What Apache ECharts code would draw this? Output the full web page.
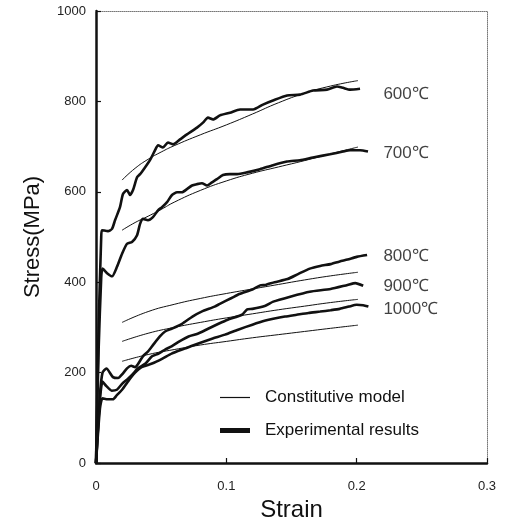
<!DOCTYPE html>
<html>
<head>
<meta charset="utf-8">
<script src="https://cdn.jsdelivr.net/npm/echarts@6/dist/echarts.min.js"></script>
<style>
html,body{margin:0;padding:0;background:#fff;}
#chart{width:506px;height:527px;}
</style>
</head>
<body>
<div id="chart"></div>
<script>
// ---- data: [strain, stress(MPa)] ----
var exp600 = [[0,0],[0.002,300],[0.004,500],[0.0046,515],[0.0092,513],[0.0123,518],[0.0146,537],[0.0184,566],[0.0207,595],[0.0238,604],[0.0261,593],[0.0284,604],[0.0315,632],[0.0338,639],[0.0376,654],[0.0414,670],[0.0453,692],[0.0476,703],[0.0514,698],[0.0552,709],[0.0591,705],[0.0645,716],[0.0698,727],[0.0775,742],[0.0821,753],[0.0859,764],[0.0898,760],[0.0951,769],[0.1028,775],[0.1105,782],[0.1205,782],[0.1281,793],[0.1358,802],[0.1466,813],[0.1565,815],[0.1665,824],[0.1772,826],[0.1849,833],[0.1895,830],[0.1949,826],[0.2026,828]];
var exp700 = [[0,0],[0.002,250],[0.004,410],[0.005,430],[0.0085,420],[0.0123,413],[0.0161,434],[0.02,463],[0.0238,485],[0.0276,489],[0.0315,504],[0.0338,529],[0.0361,540],[0.0399,537],[0.0437,544],[0.0476,559],[0.0506,566],[0.0545,577],[0.0583,593],[0.0622,599],[0.066,599],[0.0698,606],[0.0737,614],[0.0775,617],[0.0813,619],[0.0852,614],[0.089,621],[0.0928,628],[0.0974,637],[0.1028,639],[0.1082,639],[0.1159,643],[0.1258,650],[0.1358,659],[0.1466,667],[0.1565,670],[0.1665,676],[0.1795,683],[0.1895,689],[0.1949,692],[0.2026,692],[0.2087,689]];
var exp800 = [[0,0],[0.003,150],[0.005,200],[0.008,209],[0.013,190],[0.017,188],[0.02,196],[0.024,210],[0.027,215],[0.03,212],[0.032,218],[0.036,236],[0.04,247],[0.044,262],[0.049,280],[0.053,291],[0.058,297],[0.066,308],[0.074,324],[0.081,335],[0.091,346],[0.095,352],[0.104,365],[0.11,374],[0.12,384],[0.126,393],[0.13,394],[0.137,400],[0.147,407],[0.155,418],[0.164,430],[0.172,436],[0.18,440],[0.187,446],[0.193,450],[0.2,456],[0.208,460]];
var exp900 = [[0,0],[0.003,140],[0.005,180],[0.008,170],[0.012,160],[0.016,162],[0.02,175],[0.024,185],[0.028,196],[0.032,209],[0.038,220],[0.043,236],[0.048,242],[0.053,251],[0.058,258],[0.064,269],[0.071,280],[0.078,286],[0.086,297],[0.094,308],[0.101,317],[0.112,328],[0.116,340],[0.12,341],[0.13,348],[0.136,357],[0.149,368],[0.164,379],[0.18,385],[0.193,394],[0.199,398],[0.205,392]];
var exp1000 = [[0,0],[0.003,120],[0.005,143],[0.009,141],[0.013,141],[0.016,150],[0.02,162],[0.024,178],[0.027,190],[0.03,200],[0.035,212],[0.043,220],[0.051,231],[0.058,242],[0.068,253],[0.078,264],[0.089,275],[0.099,284],[0.109,295],[0.12,306],[0.13,315],[0.136,319],[0.145,324],[0.154,328],[0.163,332],[0.172,335],[0.18,338],[0.187,341],[0.194,346],[0.2,350],[0.205,349],[0.209,346]];

var model600 = [[0.02,626],[0.03,652],[0.04,672],[0.05,688],[0.06,702],[0.08,726],[0.1,748],[0.12,772],[0.14,797],[0.16,818],[0.18,834],[0.201,846]];
var model700 = [[0.02,515],[0.03,532],[0.04,546],[0.05,561],[0.06,577],[0.08,603],[0.1,624],[0.12,641],[0.14,655],[0.16,669],[0.18,684],[0.201,699]];
var model800 = [[0.02,311],[0.04,335],[0.06,351],[0.08,364],[0.1,375],[0.12,385],[0.14,395],[0.16,405],[0.18,414],[0.201,422]];
var model900 = [[0.02,269],[0.04,287],[0.06,300],[0.08,311],[0.1,321],[0.12,330],[0.14,339],[0.16,347],[0.18,355],[0.201,362]];
var model1000 = [[0.02,225],[0.04,240],[0.06,251],[0.08,261],[0.1,269],[0.12,277],[0.14,284],[0.16,291],[0.18,298],[0.201,305]];

var tempLabels = ['600℃','700℃','800℃','900℃','1000℃'];
var tempLabelStrain = [0.2205,0.2205,0.2205,0.2205,0.2205];
var tempLabelStress = [816,685,458,392,341];

var xTicks = [0,0.1,0.2,0.3];
var yTicks = [0,200,400,600,800,1000];

var MODEL = 'Constitutive model';
var EXP = 'Experimental results';
var FONT = '"Liberation Sans", Arial, sans-serif';

var chart = echarts.init(document.getElementById('chart'), null, {renderer:'canvas'});

function expSeries(d){
  return {type:'line', name:EXP, data:d, showSymbol:false, symbol:'none', smooth:0.2,
    lineStyle:{color:'#111', width:2.6}, z:3, silent:true, animation:false};
}
function modelSeries(d){
  return {type:'line', name:MODEL, data:d, showSymbol:false, symbol:'none', smooth:true,
    lineStyle:{color:'#111', width:1}, z:4, silent:true, animation:false};
}

var labelData = tempLabels.map(function(t,i){ return {value:[tempLabelStrain[i], tempLabelStress[i]], name:t}; });

var option = {
  backgroundColor:'#fff',
  animation:false,
  grid:{left:96, right:19, top:11, bottom:60, containLabel:false},
  legend:{
    orient:'vertical', left:215, top:384, itemWidth:30, itemHeight:12, itemGap:16,
    textStyle:{fontSize:17, color:'#111', fontFamily:FONT, padding:[0,0,0,10]},
    data:[
      {name:MODEL, icon:'path://M0,0L30,0L30,1.2L0,1.2Z', itemStyle:{color:'#111'}},
      {name:EXP, icon:'path://M0,0L30,0L30,5L0,5Z', itemStyle:{color:'#111'}}
    ],
    selectedMode:false
  },
  xAxis:[{
    type:'value', min:0, max:0.3, interval:0.1,
    name:'Strain', nameLocation:'middle', nameGap:35,
    nameTextStyle:{fontSize:24, color:'#111', fontFamily:FONT},
    axisLine:{show:true, lineStyle:{color:'#111', width:2.5}},
    axisTick:{show:true, inside:true, length:5, lineStyle:{color:'#111', width:1.2}},
    axisLabel:{fontSize:13, color:'#222', margin:17, fontFamily:FONT,
      formatter:function(v){ var s = xTicks.filter(function(t){return Math.abs(t-v)<1e-9;}); return s.length? String(s[0]) : ''; }},
    splitLine:{show:false}
  },{
    type:'value', position:'top', min:0, max:0.3,
    axisLine:{show:true, onZero:false, lineStyle:{color:'#777', width:1, type:'dotted'}},
    axisTick:{show:false}, axisLabel:{show:false}, splitLine:{show:false}
  }],
  yAxis:[{
    type:'value', min:0, max:1000, interval:200,
    name:'Stress(MPa)', nameLocation:'middle', nameGap:52, nameRotate:90,
    nameTextStyle:{fontSize:22, color:'#111', fontFamily:FONT},
    axisLine:{show:true, lineStyle:{color:'#111', width:2.5}},
    axisTick:{show:true, inside:true, length:5, lineStyle:{color:'#111', width:1.2}},
    axisLabel:{fontSize:13, color:'#222', margin:10, fontFamily:FONT,
      formatter:function(v){ return yTicks.indexOf(v)>=0 ? String(v) : ''; }},
    splitLine:{show:false}
  },{
    type:'value', position:'right', min:0, max:1000,
    axisLine:{show:true, onZero:false, lineStyle:{color:'#777', width:1, type:'dotted'}},
    axisTick:{show:false}, axisLabel:{show:false}, splitLine:{show:false}
  }],
  series:[
    expSeries(exp600), expSeries(exp700), expSeries(exp800), expSeries(exp900), expSeries(exp1000),
    modelSeries(model600), modelSeries(model700), modelSeries(model800), modelSeries(model900), modelSeries(model1000),
    {type:'scatter', data:labelData, symbolSize:0, silent:true, z:5,
     label:{show:true, position:'right', distance:0, formatter:function(p){return p.name;},
       fontSize:17, color:'#111', fontFamily:FONT}}
  ]
};
chart.setOption(option);
</script>
</body>
</html>
